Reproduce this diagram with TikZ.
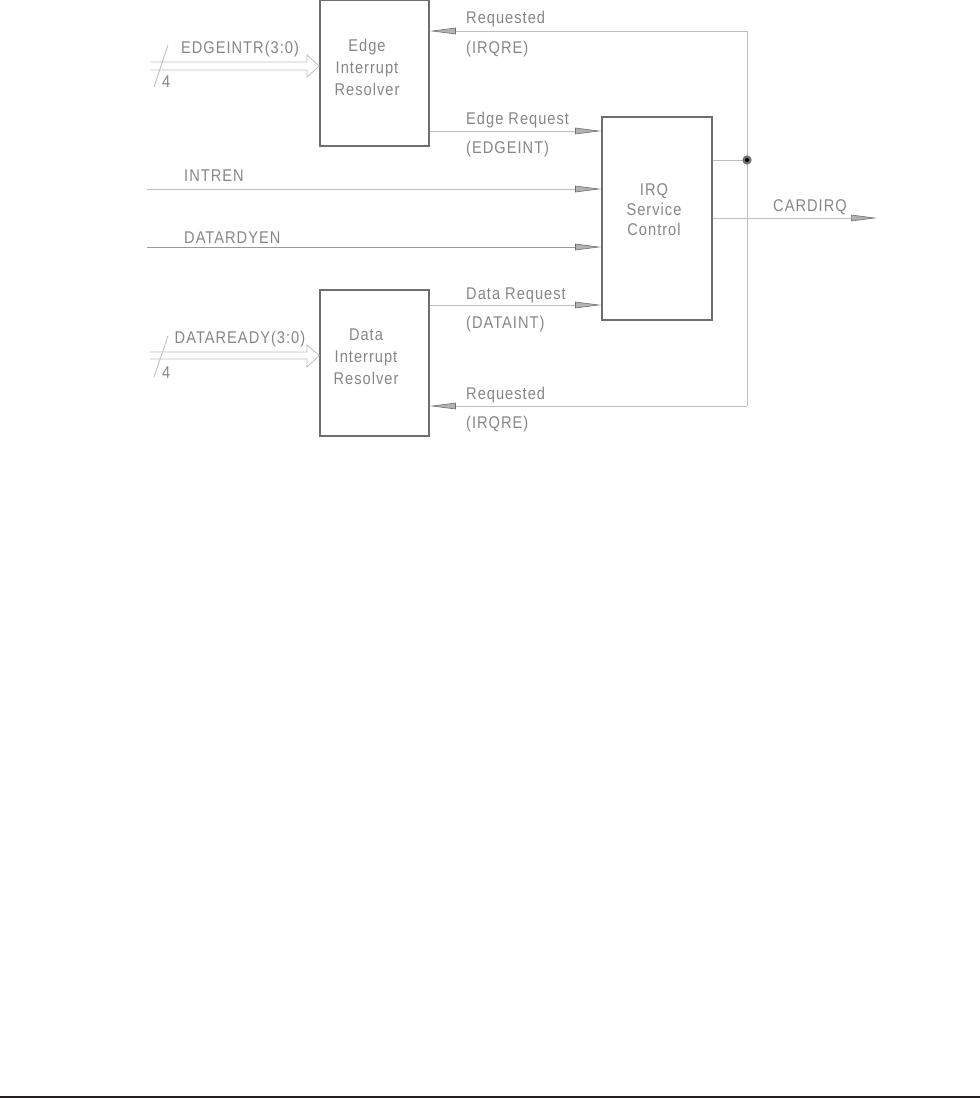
\documentclass[tikz,border=0pt]{standalone}
\usepackage{fontspec}
\setmainfont{Liberation Sans}[FakeStretch=0.86,LetterSpace=6]
\usetikzlibrary{arrows.meta,calc}
\definecolor{txtgray}{HTML}{868686}
\definecolor{linegray}{HTML}{BDBDBD}
\definecolor{boxgray}{HTML}{6E6E6E}
\definecolor{barblack}{HTML}{231F20}
\begin{document}
\begin{tikzpicture}[x=1pt,y=-1pt,
  blockbox/.style={draw=boxgray,line width=1.6pt,minimum width=109pt,inner sep=0pt},
  blocktext/.style={text=txtgray,align=center,font=\fontsize{17}{22}\selectfont},
  lbl/.style={text=txtgray,font=\fontsize{17}{20}\selectfont,inner sep=0pt},
  sig/.style={draw=linegray,line width=0.8pt},
  sigarrow/.style={sig,-{Triangle[length=26pt,width=6.5pt,color=boxgray,fill=black!30,line width=0.6pt]}},
  bus/.style={draw=linegray,line width=0.8pt,line join=miter},
  slash/.style={draw=linegray,line width=0.8pt}
]
\useasboundingbox (0,0) rectangle (980,1098);

% blocks
\node[blockbox,minimum height=146pt] (edge) at (374.5,73) {};
\node[blocktext] (edgetxt) at (367,67) {Edge\\Interrupt\\Resolver};
\node[blockbox,minimum height=146pt] (data) at (374.5,363) {};
\node[blocktext] (datatxt) at (366,357) {Data\\Interrupt\\Resolver};
\node[blockbox,minimum width=110pt,minimum height=203pt] (irq) at (657,218.5) {};
\node[blocktext,font=\fontsize{17}{20}\selectfont] (irqtxt) at (654,210) {IRQ\\Service\\Control};

% coordinates
\coordinate (rqtop) at (747,31);
\coordinate (rqbot) at (747,406);
\coordinate (jn) at (747,160);
\coordinate (erq) at (500,131);
\coordinate (drq) at (500,305);
\coordinate (intren) at (147,189);
\coordinate (datardy) at (147,247);
\coordinate (cardout) at (877,218);
\coordinate (ebus) at (150,66);
\coordinate (dbus) at (150,355.5);

% feedback loop
\draw[sigarrow] (rqtop) -- (edge.east |- rqtop);
\draw[sig] (rqtop) -- (rqbot);
\draw[sigarrow] (rqbot) -- (data.east |- rqbot);
\draw[sig] (irq.east |- jn) -- (jn);
\fill[boxgray] (jn) circle (4.6pt);
\fill[black] (jn) circle (2pt);

% requests
\draw[sigarrow] (edge.east |- erq) -- (irq.west |- erq);
\draw[sigarrow] (data.east |- drq) -- (irq.west |- drq);
\draw[sigarrow] (intren) -- (irq.west |- intren);
\draw[sigarrow,draw=black!40] (datardy) -- (irq.west |- datardy);
\draw[sigarrow] (irq.east |- cardout) -- (cardout);

% buses
\draw[bus] ($(ebus)+(0,-4)$) -- (307,62) -- (307,55) -- (edge.west |- ebus) -- (307,77) -- (307,70) -- ($(ebus)+(0,4)$);
\draw[slash] (168,45) -- (154,87);
\draw[bus] ($(dbus)+(0,-3.5)$) -- (307,352) -- (307,345) -- (data.west |- dbus) -- (307,367) -- (307,359) -- ($(dbus)+(0,3.5)$);
\draw[slash] (168,336) -- (154,377);

% labels
\node[lbl,anchor=base] (lbedge) at (240,53.5) {EDGEINTR(3:0)};
\node[lbl,anchor=base west] (lbedge4) at (162,87) {4};
\node[lbl,anchor=base] (lbdata) at (240,343.5) {DATAREADY(3:0)};
\node[lbl,anchor=base west] (lbdata4) at (162,378) {4};
\node[lbl,anchor=base west] (lrq1) at (466,23.5) {Requested};
\node[lbl,anchor=base west] (lrq1b) at (466,53.5) {(IRQRE)};
\node[lbl,anchor=base west] (ler) at (466,124.5) {Edge Request};
\node[lbl,anchor=base west] (lerb) at (466,153.5) {(EDGEINT)};
\node[lbl,anchor=base west] (lint) at (184,181.5) {INTREN};
\node[lbl,anchor=base west] (ldry) at (184,243.5) {DATARDYEN};
\node[lbl,anchor=base west] (ldr) at (466,299.5) {Data Request};
\node[lbl,anchor=base west] (ldrb) at (466,328.5) {(DATAINT)};
\node[lbl,anchor=base west] (lrq2) at (466,399.5) {Requested};
\node[lbl,anchor=base west] (lrq2b) at (466,428.5) {(IRQRE)};
\node[lbl,anchor=base] (lcard) at (810,211.5) {CARDIRQ};

% bottom rule
\fill[barblack] (0,1095.5) rectangle (980,1098);
\end{tikzpicture}
\end{document}
